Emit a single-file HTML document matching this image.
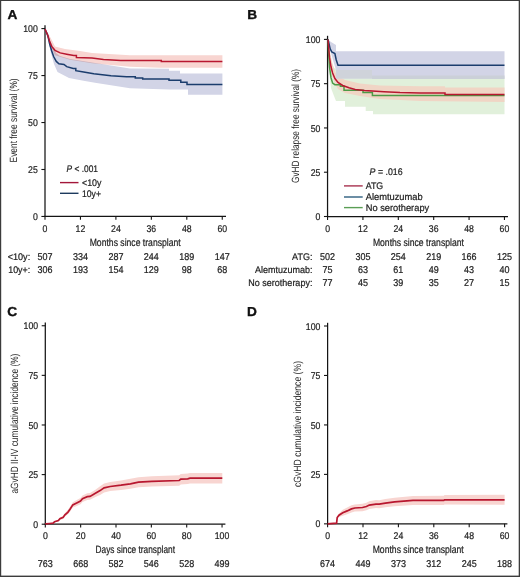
<!DOCTYPE html><html><head><meta charset="utf-8"><style>html,body{margin:0;padding:0;background:#fff;overflow:hidden}svg{display:block;font-family:"Liberation Sans",sans-serif;text-rendering:geometricPrecision}</style></head><body>
<svg width="520" height="577" viewBox="0 0 520 577">
<rect x="0" y="0" width="520" height="577" fill="#fff"/>
<text x="7.60" y="18.50" font-size="13" font-weight="bold" fill="#111" stroke="#111" stroke-width="0.35" textLength="9.86" lengthAdjust="spacingAndGlyphs">A</text>
<polygon points="45.00,29.00 50.00,40.60 56.00,53.00 60.00,56.00 70.00,59.00 92.00,62.50 130.00,68.50 169.00,68.80 169.00,70.70 180.00,70.70 180.00,73.40 222.40,73.40 222.40,94.70 188.00,94.70 188.00,89.50 169.00,89.50 130.00,88.30 95.00,82.70 83.50,80.80 69.00,77.90 57.50,72.00 54.00,64.00 51.00,53.00 48.00,40.00 45.00,29.00" fill="#d2d4e6" fill-opacity="1.0" style="mix-blend-mode:multiply"/>
<polygon points="45.00,29.00 48.00,33.00 52.00,40.50 55.00,46.50 65.00,49.00 80.00,51.00 92.00,53.00 130.00,55.20 222.40,55.20 222.40,67.80 160.00,67.80 130.00,66.80 92.00,63.20 70.00,59.80 55.00,55.20 52.00,49.00 48.00,38.00 45.00,29.00" fill="#f8d5d1" fill-opacity="1.0" style="mix-blend-mode:multiply"/>
<line x1="45.0" y1="25.2" x2="45.0" y2="217.04999999999998" stroke="#141414" stroke-width="1.25"/>
<line x1="44.4" y1="216.45" x2="226" y2="216.45" stroke="#141414" stroke-width="1.25"/>
<line x1="41.4" y1="28.60" x2="45.0" y2="28.60" stroke="#141414" stroke-width="1.1"/>
<text x="37.80" y="32.20" font-size="9.8" text-anchor="end" font-weight="normal" fill="#1e1e1e" textLength="14.55" lengthAdjust="spacingAndGlyphs" stroke="#1e1e1e" stroke-width="0.22">100</text>
<line x1="41.4" y1="75.56" x2="45.0" y2="75.56" stroke="#141414" stroke-width="1.1"/>
<text x="37.80" y="79.16" font-size="9.8" text-anchor="end" font-weight="normal" fill="#1e1e1e" textLength="9.70" lengthAdjust="spacingAndGlyphs" stroke="#1e1e1e" stroke-width="0.22">75</text>
<line x1="41.4" y1="122.53" x2="45.0" y2="122.53" stroke="#141414" stroke-width="1.1"/>
<text x="37.80" y="126.12" font-size="9.8" text-anchor="end" font-weight="normal" fill="#1e1e1e" textLength="9.70" lengthAdjust="spacingAndGlyphs" stroke="#1e1e1e" stroke-width="0.22">50</text>
<line x1="41.4" y1="169.49" x2="45.0" y2="169.49" stroke="#141414" stroke-width="1.1"/>
<text x="37.80" y="173.09" font-size="9.8" text-anchor="end" font-weight="normal" fill="#1e1e1e" textLength="9.70" lengthAdjust="spacingAndGlyphs" stroke="#1e1e1e" stroke-width="0.22">25</text>
<line x1="41.4" y1="216.45" x2="45.0" y2="216.45" stroke="#141414" stroke-width="1.1"/>
<text x="37.80" y="220.05" font-size="9.8" text-anchor="end" font-weight="normal" fill="#1e1e1e" textLength="4.85" lengthAdjust="spacingAndGlyphs" stroke="#1e1e1e" stroke-width="0.22">0</text>
<line x1="45.00" y1="216.45" x2="45.00" y2="219.85" stroke="#141414" stroke-width="1.1"/>
<text x="45.00" y="231.55" font-size="9.8" text-anchor="middle" font-weight="normal" fill="#1e1e1e" textLength="4.85" lengthAdjust="spacingAndGlyphs" stroke="#1e1e1e" stroke-width="0.22">0</text>
<line x1="80.45" y1="216.45" x2="80.45" y2="219.85" stroke="#141414" stroke-width="1.1"/>
<text x="80.45" y="231.55" font-size="9.8" text-anchor="middle" font-weight="normal" fill="#1e1e1e" textLength="9.70" lengthAdjust="spacingAndGlyphs" stroke="#1e1e1e" stroke-width="0.22">12</text>
<line x1="115.90" y1="216.45" x2="115.90" y2="219.85" stroke="#141414" stroke-width="1.1"/>
<text x="115.90" y="231.55" font-size="9.8" text-anchor="middle" font-weight="normal" fill="#1e1e1e" textLength="9.70" lengthAdjust="spacingAndGlyphs" stroke="#1e1e1e" stroke-width="0.22">24</text>
<line x1="151.35" y1="216.45" x2="151.35" y2="219.85" stroke="#141414" stroke-width="1.1"/>
<text x="151.35" y="231.55" font-size="9.8" text-anchor="middle" font-weight="normal" fill="#1e1e1e" textLength="9.70" lengthAdjust="spacingAndGlyphs" stroke="#1e1e1e" stroke-width="0.22">36</text>
<line x1="186.80" y1="216.45" x2="186.80" y2="219.85" stroke="#141414" stroke-width="1.1"/>
<text x="186.80" y="231.55" font-size="9.8" text-anchor="middle" font-weight="normal" fill="#1e1e1e" textLength="9.70" lengthAdjust="spacingAndGlyphs" stroke="#1e1e1e" stroke-width="0.22">48</text>
<line x1="222.25" y1="216.45" x2="222.25" y2="219.85" stroke="#141414" stroke-width="1.1"/>
<text x="222.25" y="231.55" font-size="9.8" text-anchor="middle" font-weight="normal" fill="#1e1e1e" textLength="9.70" lengthAdjust="spacingAndGlyphs" stroke="#1e1e1e" stroke-width="0.22">60</text>
<polyline points="45.00,29.00 47.80,35.40 49.80,44.50 51.70,51.00 53.70,56.80 56.30,61.40 58.90,63.70 64.00,64.40 66.70,66.60 73.20,68.50 75.80,68.50 75.80,70.70 83.60,72.00 93.80,73.80 111.00,75.80 126.50,76.70 135.30,76.70 135.30,78.00 142.70,78.00 142.70,79.10 169.00,79.10 169.00,80.20 180.80,80.20 180.80,82.30 187.00,82.30 187.00,84.40 222.40,84.40" fill="none" stroke="#1b3d6d" stroke-width="1.5" stroke-linejoin="miter" stroke-miterlimit="2"/>
<polyline points="45.00,29.00 47.80,35.40 49.80,41.90 51.70,46.40 55.00,50.30 60.20,52.90 66.70,54.20 73.80,55.50 76.40,55.50 76.40,57.50 92.00,58.10 103.50,59.40 120.80,60.40 161.30,60.50 161.30,61.40 222.40,61.40" fill="none" stroke="#b8172f" stroke-width="1.5" stroke-linejoin="miter" stroke-miterlimit="2"/>
<text x="0" y="0" font-size="10.5" text-anchor="middle" fill="#1e1e1e" textLength="84" lengthAdjust="spacingAndGlyphs" transform="translate(16.6,120.4) rotate(-90)">Event free survival (%)</text>
<text x="135.20" y="245.80" font-size="10.5" text-anchor="middle" font-weight="normal" fill="#1e1e1e" textLength="91.00" lengthAdjust="spacingAndGlyphs" stroke="#1e1e1e" stroke-width="0.22">Months since transplant</text>
<text x="66.60" y="172.00" font-size="9.6" text-anchor="start" font-weight="normal" fill="#1e1e1e" textLength="31.40" lengthAdjust="spacingAndGlyphs" stroke="#1e1e1e" stroke-width="0.22"><tspan font-style="italic">P</tspan> &lt; .001</text>
<line x1="60" y1="182.6" x2="78.5" y2="182.6" stroke="#a3173a" stroke-width="1.4"/>
<line x1="60" y1="193.3" x2="78.5" y2="193.3" stroke="#1d3a5e" stroke-width="1.4"/>
<text x="82.00" y="186.00" font-size="9.6" text-anchor="start" font-weight="normal" fill="#1e1e1e" textLength="19.50" lengthAdjust="spacingAndGlyphs" stroke="#1e1e1e" stroke-width="0.22">&lt;10y</text>
<text x="82.00" y="196.50" font-size="9.6" text-anchor="start" font-weight="normal" fill="#1e1e1e" textLength="19.00" lengthAdjust="spacingAndGlyphs" stroke="#1e1e1e" stroke-width="0.22">10y+</text>
<text x="30.20" y="259.60" font-size="9.6" text-anchor="end" font-weight="normal" fill="#1e1e1e" textLength="22.50" lengthAdjust="spacingAndGlyphs" stroke="#1e1e1e" stroke-width="0.22">&lt;10y:</text>
<text x="30.20" y="272.60" font-size="9.6" text-anchor="end" font-weight="normal" fill="#1e1e1e" textLength="22.00" lengthAdjust="spacingAndGlyphs" stroke="#1e1e1e" stroke-width="0.22">10y+:</text>
<text x="45.00" y="259.60" font-size="9.9" text-anchor="middle" font-weight="normal" fill="#1e1e1e" textLength="15.01" lengthAdjust="spacingAndGlyphs" stroke="#1e1e1e" stroke-width="0.22">507</text>
<text x="45.00" y="272.60" font-size="9.9" text-anchor="middle" font-weight="normal" fill="#1e1e1e" textLength="15.01" lengthAdjust="spacingAndGlyphs" stroke="#1e1e1e" stroke-width="0.22">306</text>
<text x="80.45" y="259.60" font-size="9.9" text-anchor="middle" font-weight="normal" fill="#1e1e1e" textLength="15.01" lengthAdjust="spacingAndGlyphs" stroke="#1e1e1e" stroke-width="0.22">334</text>
<text x="80.45" y="272.60" font-size="9.9" text-anchor="middle" font-weight="normal" fill="#1e1e1e" textLength="15.01" lengthAdjust="spacingAndGlyphs" stroke="#1e1e1e" stroke-width="0.22">193</text>
<text x="115.90" y="259.60" font-size="9.9" text-anchor="middle" font-weight="normal" fill="#1e1e1e" textLength="15.01" lengthAdjust="spacingAndGlyphs" stroke="#1e1e1e" stroke-width="0.22">287</text>
<text x="115.90" y="272.60" font-size="9.9" text-anchor="middle" font-weight="normal" fill="#1e1e1e" textLength="15.01" lengthAdjust="spacingAndGlyphs" stroke="#1e1e1e" stroke-width="0.22">154</text>
<text x="151.35" y="259.60" font-size="9.9" text-anchor="middle" font-weight="normal" fill="#1e1e1e" textLength="15.01" lengthAdjust="spacingAndGlyphs" stroke="#1e1e1e" stroke-width="0.22">244</text>
<text x="151.35" y="272.60" font-size="9.9" text-anchor="middle" font-weight="normal" fill="#1e1e1e" textLength="15.01" lengthAdjust="spacingAndGlyphs" stroke="#1e1e1e" stroke-width="0.22">129</text>
<text x="186.80" y="259.60" font-size="9.9" text-anchor="middle" font-weight="normal" fill="#1e1e1e" textLength="15.01" lengthAdjust="spacingAndGlyphs" stroke="#1e1e1e" stroke-width="0.22">189</text>
<text x="186.80" y="272.60" font-size="9.9" text-anchor="middle" font-weight="normal" fill="#1e1e1e" textLength="10.01" lengthAdjust="spacingAndGlyphs" stroke="#1e1e1e" stroke-width="0.22">98</text>
<text x="222.25" y="259.60" font-size="9.9" text-anchor="middle" font-weight="normal" fill="#1e1e1e" textLength="15.01" lengthAdjust="spacingAndGlyphs" stroke="#1e1e1e" stroke-width="0.22">147</text>
<text x="222.25" y="272.60" font-size="9.9" text-anchor="middle" font-weight="normal" fill="#1e1e1e" textLength="10.01" lengthAdjust="spacingAndGlyphs" stroke="#1e1e1e" stroke-width="0.22">68</text>
<text x="247.20" y="18.80" font-size="13" font-weight="bold" fill="#111" stroke="#111" stroke-width="0.35" textLength="9.86" lengthAdjust="spacingAndGlyphs">B</text>
<polygon points="328.00,39.50 329.00,50.00 331.00,62.00 334.00,68.00 338.00,69.50 372.00,69.50 372.00,77.50 504.50,77.50 504.50,114.30 373.00,114.30 373.00,111.00 365.70,111.00 365.70,106.70 345.00,106.70 345.00,101.00 336.00,101.00 334.00,96.00 331.00,88.00 329.00,70.00 328.00,39.50" fill="#e1f0db" fill-opacity="1.0"/>
<polygon points="328.00,39.50 330.00,52.00 332.00,62.00 335.00,72.00 338.00,76.00 345.00,80.00 360.00,83.50 380.00,85.50 420.00,86.30 445.00,86.30 445.00,87.50 504.50,87.50 504.50,102.00 420.00,101.00 380.00,99.00 360.00,96.00 345.00,93.00 338.00,89.00 335.00,84.00 332.00,75.00 330.00,62.00 328.00,39.50" fill="#f0d5c5" fill-opacity="1.0"/>
<polygon points="328.00,39.50 331.00,42.00 336.00,45.00 336.00,51.20 504.50,51.20 504.50,78.60 336.00,78.60 336.00,70.00 333.00,60.00 330.00,50.00 328.00,39.50" fill="#d2d4e6" fill-opacity="1.0"/>
<polygon points="336.00,70.00 372.00,70.00 372.00,78.60 336.00,78.60" fill="#cfd3da" fill-opacity="1.0"/>
<polygon points="372.00,75.50 504.50,75.50 504.50,79.00 372.00,79.00" fill="#cbd0d8" fill-opacity="1.0"/>
<line x1="327.55" y1="35.8" x2="327.55" y2="217.1" stroke="#141414" stroke-width="1.25"/>
<line x1="326.95" y1="216.5" x2="508" y2="216.5" stroke="#141414" stroke-width="1.25"/>
<line x1="323.95" y1="39.40" x2="327.55" y2="39.40" stroke="#141414" stroke-width="1.1"/>
<text x="320.35" y="43.00" font-size="9.8" text-anchor="end" font-weight="normal" fill="#1e1e1e" textLength="14.55" lengthAdjust="spacingAndGlyphs" stroke="#1e1e1e" stroke-width="0.22">100</text>
<line x1="323.95" y1="83.67" x2="327.55" y2="83.67" stroke="#141414" stroke-width="1.1"/>
<text x="320.35" y="87.27" font-size="9.8" text-anchor="end" font-weight="normal" fill="#1e1e1e" textLength="9.70" lengthAdjust="spacingAndGlyphs" stroke="#1e1e1e" stroke-width="0.22">75</text>
<line x1="323.95" y1="127.95" x2="327.55" y2="127.95" stroke="#141414" stroke-width="1.1"/>
<text x="320.35" y="131.55" font-size="9.8" text-anchor="end" font-weight="normal" fill="#1e1e1e" textLength="9.70" lengthAdjust="spacingAndGlyphs" stroke="#1e1e1e" stroke-width="0.22">50</text>
<line x1="323.95" y1="172.22" x2="327.55" y2="172.22" stroke="#141414" stroke-width="1.1"/>
<text x="320.35" y="175.82" font-size="9.8" text-anchor="end" font-weight="normal" fill="#1e1e1e" textLength="9.70" lengthAdjust="spacingAndGlyphs" stroke="#1e1e1e" stroke-width="0.22">25</text>
<line x1="323.95" y1="216.50" x2="327.55" y2="216.50" stroke="#141414" stroke-width="1.1"/>
<text x="320.35" y="220.10" font-size="9.8" text-anchor="end" font-weight="normal" fill="#1e1e1e" textLength="4.85" lengthAdjust="spacingAndGlyphs" stroke="#1e1e1e" stroke-width="0.22">0</text>
<line x1="327.55" y1="216.5" x2="327.55" y2="219.9" stroke="#141414" stroke-width="1.1"/>
<text x="327.55" y="231.60" font-size="9.8" text-anchor="middle" font-weight="normal" fill="#1e1e1e" textLength="4.85" lengthAdjust="spacingAndGlyphs" stroke="#1e1e1e" stroke-width="0.22">0</text>
<line x1="362.93" y1="216.5" x2="362.93" y2="219.9" stroke="#141414" stroke-width="1.1"/>
<text x="362.93" y="231.60" font-size="9.8" text-anchor="middle" font-weight="normal" fill="#1e1e1e" textLength="9.70" lengthAdjust="spacingAndGlyphs" stroke="#1e1e1e" stroke-width="0.22">12</text>
<line x1="398.31" y1="216.5" x2="398.31" y2="219.9" stroke="#141414" stroke-width="1.1"/>
<text x="398.31" y="231.60" font-size="9.8" text-anchor="middle" font-weight="normal" fill="#1e1e1e" textLength="9.70" lengthAdjust="spacingAndGlyphs" stroke="#1e1e1e" stroke-width="0.22">24</text>
<line x1="433.69" y1="216.5" x2="433.69" y2="219.9" stroke="#141414" stroke-width="1.1"/>
<text x="433.69" y="231.60" font-size="9.8" text-anchor="middle" font-weight="normal" fill="#1e1e1e" textLength="9.70" lengthAdjust="spacingAndGlyphs" stroke="#1e1e1e" stroke-width="0.22">36</text>
<line x1="469.07" y1="216.5" x2="469.07" y2="219.9" stroke="#141414" stroke-width="1.1"/>
<text x="469.07" y="231.60" font-size="9.8" text-anchor="middle" font-weight="normal" fill="#1e1e1e" textLength="9.70" lengthAdjust="spacingAndGlyphs" stroke="#1e1e1e" stroke-width="0.22">48</text>
<line x1="504.45" y1="216.5" x2="504.45" y2="219.9" stroke="#141414" stroke-width="1.1"/>
<text x="504.45" y="231.60" font-size="9.8" text-anchor="middle" font-weight="normal" fill="#1e1e1e" textLength="9.70" lengthAdjust="spacingAndGlyphs" stroke="#1e1e1e" stroke-width="0.22">60</text>
<polyline points="328.00,39.50 328.70,54.30 329.50,66.80 331.00,77.70 332.60,83.10 334.90,84.70 340.40,84.70 340.40,86.30 344.00,86.30 344.00,90.20 363.00,90.20 363.00,92.50 372.40,92.50 372.40,95.60 504.50,95.60" fill="none" stroke="#4c9a46" stroke-width="1.5" stroke-linejoin="miter" stroke-miterlimit="2"/>
<polyline points="328.00,39.50 330.20,48.80 331.80,52.00 334.90,53.50 336.20,59.70 338.00,65.20 504.50,65.20" fill="none" stroke="#1b3d6d" stroke-width="1.5" stroke-linejoin="miter" stroke-miterlimit="2"/>
<polyline points="328.00,39.50 329.50,57.40 331.00,66.80 332.60,73.00 334.90,78.50 338.00,82.40 342.70,85.50 349.00,87.80 355.20,89.40 364.60,90.50 384.00,91.70 400.00,92.50 420.00,93.00 445.00,93.00 445.00,94.50 504.50,94.50" fill="none" stroke="#b8172f" stroke-width="1.5" stroke-linejoin="miter" stroke-miterlimit="2"/>
<text x="0" y="0" font-size="10.5" text-anchor="middle" fill="#1e1e1e" textLength="114" lengthAdjust="spacingAndGlyphs" transform="translate(299.1,126) rotate(-90)">GvHD relapse free survival (%)</text>
<text x="418.40" y="245.80" font-size="10.5" text-anchor="middle" font-weight="normal" fill="#1e1e1e" textLength="91.00" lengthAdjust="spacingAndGlyphs" stroke="#1e1e1e" stroke-width="0.22">Months since transplant</text>
<text x="369.60" y="174.80" font-size="9.6" text-anchor="start" font-weight="normal" fill="#1e1e1e" textLength="33.00" lengthAdjust="spacingAndGlyphs" stroke="#1e1e1e" stroke-width="0.22"><tspan font-style="italic">P</tspan> = .016</text>
<line x1="344" y1="185.9" x2="362.7" y2="185.9" stroke="#a8324f" stroke-width="1.4"/>
<text x="365.70" y="189.30" font-size="9.6" text-anchor="start" font-weight="normal" fill="#1e1e1e" textLength="17.50" lengthAdjust="spacingAndGlyphs" stroke="#1e1e1e" stroke-width="0.22">ATG</text>
<line x1="344" y1="197.0" x2="362.7" y2="197.0" stroke="#2d5d7e" stroke-width="1.4"/>
<text x="365.70" y="200.40" font-size="9.6" text-anchor="start" font-weight="normal" fill="#1e1e1e" textLength="57.00" lengthAdjust="spacingAndGlyphs" stroke="#1e1e1e" stroke-width="0.22">Alemtuzumab</text>
<line x1="344" y1="207.6" x2="362.7" y2="207.6" stroke="#5a9e55" stroke-width="1.4"/>
<text x="365.70" y="211.00" font-size="9.6" text-anchor="start" font-weight="normal" fill="#1e1e1e" textLength="63.50" lengthAdjust="spacingAndGlyphs" stroke="#1e1e1e" stroke-width="0.22">No serotherapy</text>
<text x="312.40" y="259.80" font-size="9.6" text-anchor="end" font-weight="normal" fill="#1e1e1e" textLength="20.33" lengthAdjust="spacingAndGlyphs" stroke="#1e1e1e" stroke-width="0.22">ATG:</text>
<text x="327.55" y="259.80" font-size="9.9" text-anchor="middle" font-weight="normal" fill="#1e1e1e" textLength="15.01" lengthAdjust="spacingAndGlyphs" stroke="#1e1e1e" stroke-width="0.22">502</text>
<text x="362.93" y="259.80" font-size="9.9" text-anchor="middle" font-weight="normal" fill="#1e1e1e" textLength="15.01" lengthAdjust="spacingAndGlyphs" stroke="#1e1e1e" stroke-width="0.22">305</text>
<text x="398.31" y="259.80" font-size="9.9" text-anchor="middle" font-weight="normal" fill="#1e1e1e" textLength="15.01" lengthAdjust="spacingAndGlyphs" stroke="#1e1e1e" stroke-width="0.22">254</text>
<text x="433.69" y="259.80" font-size="9.9" text-anchor="middle" font-weight="normal" fill="#1e1e1e" textLength="15.01" lengthAdjust="spacingAndGlyphs" stroke="#1e1e1e" stroke-width="0.22">219</text>
<text x="469.07" y="259.80" font-size="9.9" text-anchor="middle" font-weight="normal" fill="#1e1e1e" textLength="15.01" lengthAdjust="spacingAndGlyphs" stroke="#1e1e1e" stroke-width="0.22">166</text>
<text x="504.45" y="259.80" font-size="9.9" text-anchor="middle" font-weight="normal" fill="#1e1e1e" textLength="15.01" lengthAdjust="spacingAndGlyphs" stroke="#1e1e1e" stroke-width="0.22">125</text>
<text x="312.40" y="273.20" font-size="9.6" text-anchor="end" font-weight="normal" fill="#1e1e1e" textLength="57.52" lengthAdjust="spacingAndGlyphs" stroke="#1e1e1e" stroke-width="0.22">Alemtuzumab:</text>
<text x="327.55" y="273.20" font-size="9.9" text-anchor="middle" font-weight="normal" fill="#1e1e1e" textLength="10.01" lengthAdjust="spacingAndGlyphs" stroke="#1e1e1e" stroke-width="0.22">75</text>
<text x="362.93" y="273.20" font-size="9.9" text-anchor="middle" font-weight="normal" fill="#1e1e1e" textLength="10.01" lengthAdjust="spacingAndGlyphs" stroke="#1e1e1e" stroke-width="0.22">63</text>
<text x="398.31" y="273.20" font-size="9.9" text-anchor="middle" font-weight="normal" fill="#1e1e1e" textLength="10.01" lengthAdjust="spacingAndGlyphs" stroke="#1e1e1e" stroke-width="0.22">61</text>
<text x="433.69" y="273.20" font-size="9.9" text-anchor="middle" font-weight="normal" fill="#1e1e1e" textLength="10.01" lengthAdjust="spacingAndGlyphs" stroke="#1e1e1e" stroke-width="0.22">49</text>
<text x="469.07" y="273.20" font-size="9.9" text-anchor="middle" font-weight="normal" fill="#1e1e1e" textLength="10.01" lengthAdjust="spacingAndGlyphs" stroke="#1e1e1e" stroke-width="0.22">43</text>
<text x="504.45" y="273.20" font-size="9.9" text-anchor="middle" font-weight="normal" fill="#1e1e1e" textLength="10.01" lengthAdjust="spacingAndGlyphs" stroke="#1e1e1e" stroke-width="0.22">40</text>
<text x="312.40" y="286.30" font-size="9.6" text-anchor="end" font-weight="normal" fill="#1e1e1e" textLength="64.03" lengthAdjust="spacingAndGlyphs" stroke="#1e1e1e" stroke-width="0.22">No serotherapy:</text>
<text x="327.55" y="286.30" font-size="9.9" text-anchor="middle" font-weight="normal" fill="#1e1e1e" textLength="10.01" lengthAdjust="spacingAndGlyphs" stroke="#1e1e1e" stroke-width="0.22">77</text>
<text x="362.93" y="286.30" font-size="9.9" text-anchor="middle" font-weight="normal" fill="#1e1e1e" textLength="10.01" lengthAdjust="spacingAndGlyphs" stroke="#1e1e1e" stroke-width="0.22">45</text>
<text x="398.31" y="286.30" font-size="9.9" text-anchor="middle" font-weight="normal" fill="#1e1e1e" textLength="10.01" lengthAdjust="spacingAndGlyphs" stroke="#1e1e1e" stroke-width="0.22">39</text>
<text x="433.69" y="286.30" font-size="9.9" text-anchor="middle" font-weight="normal" fill="#1e1e1e" textLength="10.01" lengthAdjust="spacingAndGlyphs" stroke="#1e1e1e" stroke-width="0.22">35</text>
<text x="469.07" y="286.30" font-size="9.9" text-anchor="middle" font-weight="normal" fill="#1e1e1e" textLength="10.01" lengthAdjust="spacingAndGlyphs" stroke="#1e1e1e" stroke-width="0.22">27</text>
<text x="504.45" y="286.30" font-size="9.9" text-anchor="middle" font-weight="normal" fill="#1e1e1e" textLength="10.01" lengthAdjust="spacingAndGlyphs" stroke="#1e1e1e" stroke-width="0.22">15</text>
<text x="7.20" y="316.30" font-size="13" font-weight="bold" fill="#111" stroke="#111" stroke-width="0.35" textLength="9.86" lengthAdjust="spacingAndGlyphs">C</text>
<polygon points="53.10,522.89 54.60,521.19 58.40,519.61 59.90,517.61 63.20,515.78 64.70,513.19 68.00,509.86 70.00,506.70 72.80,502.20 76.70,500.03 80.50,497.89 82.50,495.43 87.30,493.31 90.00,492.93 95.40,489.64 100.10,486.20 104.10,483.42 110.20,481.90 121.00,480.38 130.40,478.80 138.50,477.16 151.90,476.29 179.20,475.25 180.80,473.95 187.70,473.51 190.00,472.90 222.30,472.90 222.30,483.50 190.00,483.50 187.70,484.09 180.80,484.45 179.20,485.75 151.90,486.51 138.50,487.24 130.40,488.80 121.00,490.02 110.20,491.10 104.10,492.38 100.10,495.00 95.40,496.96 90.00,499.87 87.30,500.09 82.50,501.97 80.50,504.31 76.70,505.97 72.80,507.60 70.00,511.70 68.00,514.34 64.70,516.81 63.20,519.02 59.90,519.99 58.40,521.59 54.60,522.21 53.10,523.51" fill="#f8d5d1" fill-opacity="1.0" style="mix-blend-mode:multiply"/>
<line x1="45.3" y1="322.5" x2="45.3" y2="524.8000000000001" stroke="#141414" stroke-width="1.25"/>
<line x1="44.699999999999996" y1="524.2" x2="225.4" y2="524.2" stroke="#141414" stroke-width="1.25"/>
<line x1="41.699999999999996" y1="325.75" x2="45.3" y2="325.75" stroke="#141414" stroke-width="1.1"/>
<text x="38.10" y="329.35" font-size="9.8" text-anchor="end" font-weight="normal" fill="#1e1e1e" textLength="14.55" lengthAdjust="spacingAndGlyphs" stroke="#1e1e1e" stroke-width="0.22">100</text>
<line x1="41.699999999999996" y1="375.36" x2="45.3" y2="375.36" stroke="#141414" stroke-width="1.1"/>
<text x="38.10" y="378.96" font-size="9.8" text-anchor="end" font-weight="normal" fill="#1e1e1e" textLength="9.70" lengthAdjust="spacingAndGlyphs" stroke="#1e1e1e" stroke-width="0.22">75</text>
<line x1="41.699999999999996" y1="424.98" x2="45.3" y2="424.98" stroke="#141414" stroke-width="1.1"/>
<text x="38.10" y="428.58" font-size="9.8" text-anchor="end" font-weight="normal" fill="#1e1e1e" textLength="9.70" lengthAdjust="spacingAndGlyphs" stroke="#1e1e1e" stroke-width="0.22">50</text>
<line x1="41.699999999999996" y1="474.59" x2="45.3" y2="474.59" stroke="#141414" stroke-width="1.1"/>
<text x="38.10" y="478.19" font-size="9.8" text-anchor="end" font-weight="normal" fill="#1e1e1e" textLength="9.70" lengthAdjust="spacingAndGlyphs" stroke="#1e1e1e" stroke-width="0.22">25</text>
<line x1="41.699999999999996" y1="524.20" x2="45.3" y2="524.20" stroke="#141414" stroke-width="1.1"/>
<text x="38.10" y="527.80" font-size="9.8" text-anchor="end" font-weight="normal" fill="#1e1e1e" textLength="4.85" lengthAdjust="spacingAndGlyphs" stroke="#1e1e1e" stroke-width="0.22">0</text>
<line x1="45.30" y1="524.2" x2="45.30" y2="527.6" stroke="#141414" stroke-width="1.1"/>
<text x="45.30" y="539.30" font-size="9.8" text-anchor="middle" font-weight="normal" fill="#1e1e1e" textLength="4.85" lengthAdjust="spacingAndGlyphs" stroke="#1e1e1e" stroke-width="0.22">0</text>
<line x1="80.65" y1="524.2" x2="80.65" y2="527.6" stroke="#141414" stroke-width="1.1"/>
<text x="80.65" y="539.30" font-size="9.8" text-anchor="middle" font-weight="normal" fill="#1e1e1e" textLength="9.70" lengthAdjust="spacingAndGlyphs" stroke="#1e1e1e" stroke-width="0.22">20</text>
<line x1="116.00" y1="524.2" x2="116.00" y2="527.6" stroke="#141414" stroke-width="1.1"/>
<text x="116.00" y="539.30" font-size="9.8" text-anchor="middle" font-weight="normal" fill="#1e1e1e" textLength="9.70" lengthAdjust="spacingAndGlyphs" stroke="#1e1e1e" stroke-width="0.22">40</text>
<line x1="151.35" y1="524.2" x2="151.35" y2="527.6" stroke="#141414" stroke-width="1.1"/>
<text x="151.35" y="539.30" font-size="9.8" text-anchor="middle" font-weight="normal" fill="#1e1e1e" textLength="9.70" lengthAdjust="spacingAndGlyphs" stroke="#1e1e1e" stroke-width="0.22">60</text>
<line x1="186.70" y1="524.2" x2="186.70" y2="527.6" stroke="#141414" stroke-width="1.1"/>
<text x="186.70" y="539.30" font-size="9.8" text-anchor="middle" font-weight="normal" fill="#1e1e1e" textLength="9.70" lengthAdjust="spacingAndGlyphs" stroke="#1e1e1e" stroke-width="0.22">80</text>
<line x1="222.05" y1="524.2" x2="222.05" y2="527.6" stroke="#141414" stroke-width="1.1"/>
<text x="222.05" y="539.30" font-size="9.8" text-anchor="middle" font-weight="normal" fill="#1e1e1e" textLength="14.55" lengthAdjust="spacingAndGlyphs" stroke="#1e1e1e" stroke-width="0.22">100</text>
<polyline points="45.30,524.00 45.90,523.80 49.80,523.50 53.10,523.20 54.60,521.70 58.40,520.60 59.90,518.80 63.20,517.40 64.70,515.00 68.00,512.10 70.00,509.20 72.80,504.90 76.70,503.00 80.50,501.10 82.50,498.70 87.30,496.70 90.00,496.40 95.40,493.30 100.10,490.60 104.10,487.90 110.20,486.50 121.00,485.20 130.40,483.80 138.50,482.20 151.90,481.40 179.20,480.50 180.80,479.20 187.70,478.80 190.00,478.20 222.30,478.20" fill="none" stroke="#b8172f" stroke-width="1.7" stroke-linejoin="miter" stroke-miterlimit="2"/>
<text x="0" y="0" font-size="10.5" text-anchor="middle" fill="#1e1e1e" textLength="140" lengthAdjust="spacingAndGlyphs" transform="translate(18.1,423.6) rotate(-90)">aGvHD II-IV cumulative incidence (%)</text>
<text x="135.30" y="552.80" font-size="10.5" text-anchor="middle" font-weight="normal" fill="#1e1e1e" textLength="79.40" lengthAdjust="spacingAndGlyphs" stroke="#1e1e1e" stroke-width="0.22">Days since transplant</text>
<text x="45.30" y="567.20" font-size="9.9" text-anchor="middle" font-weight="normal" fill="#1e1e1e" textLength="15.01" lengthAdjust="spacingAndGlyphs" stroke="#1e1e1e" stroke-width="0.22">763</text>
<text x="80.65" y="567.20" font-size="9.9" text-anchor="middle" font-weight="normal" fill="#1e1e1e" textLength="15.01" lengthAdjust="spacingAndGlyphs" stroke="#1e1e1e" stroke-width="0.22">668</text>
<text x="116.00" y="567.20" font-size="9.9" text-anchor="middle" font-weight="normal" fill="#1e1e1e" textLength="15.01" lengthAdjust="spacingAndGlyphs" stroke="#1e1e1e" stroke-width="0.22">582</text>
<text x="151.35" y="567.20" font-size="9.9" text-anchor="middle" font-weight="normal" fill="#1e1e1e" textLength="15.01" lengthAdjust="spacingAndGlyphs" stroke="#1e1e1e" stroke-width="0.22">546</text>
<text x="186.70" y="567.20" font-size="9.9" text-anchor="middle" font-weight="normal" fill="#1e1e1e" textLength="15.01" lengthAdjust="spacingAndGlyphs" stroke="#1e1e1e" stroke-width="0.22">528</text>
<text x="222.05" y="567.20" font-size="9.9" text-anchor="middle" font-weight="normal" fill="#1e1e1e" textLength="15.01" lengthAdjust="spacingAndGlyphs" stroke="#1e1e1e" stroke-width="0.22">499</text>
<text x="247.00" y="316.40" font-size="13" font-weight="bold" fill="#111" stroke="#111" stroke-width="0.35" textLength="9.86" lengthAdjust="spacingAndGlyphs">D</text>
<polygon points="337.20,516.71 339.00,513.52 342.80,509.75 347.20,507.57 351.50,505.37 354.80,504.41 362.50,503.76 366.40,502.68 369.30,501.23 376.00,500.10 379.20,500.16 385.40,499.07 394.60,497.65 413.00,495.90 443.80,495.69 444.50,495.08 504.60,494.80 504.60,504.80 444.50,504.52 443.80,505.11 413.00,504.90 394.60,506.15 385.40,507.33 379.20,508.24 376.00,508.10 369.30,508.97 366.40,510.32 362.50,511.24 354.80,511.59 351.50,512.43 347.20,514.23 342.80,515.85 339.00,516.88 337.20,518.49" fill="#f8d5d1" fill-opacity="1.0" style="mix-blend-mode:multiply"/>
<line x1="327.6" y1="322.8" x2="327.6" y2="524.45" stroke="#141414" stroke-width="1.25"/>
<line x1="327.0" y1="523.85" x2="507.4" y2="523.85" stroke="#141414" stroke-width="1.25"/>
<line x1="324.0" y1="326.00" x2="327.6" y2="326.00" stroke="#141414" stroke-width="1.1"/>
<text x="320.40" y="329.60" font-size="9.8" text-anchor="end" font-weight="normal" fill="#1e1e1e" textLength="14.55" lengthAdjust="spacingAndGlyphs" stroke="#1e1e1e" stroke-width="0.22">100</text>
<line x1="324.0" y1="375.46" x2="327.6" y2="375.46" stroke="#141414" stroke-width="1.1"/>
<text x="320.40" y="379.06" font-size="9.8" text-anchor="end" font-weight="normal" fill="#1e1e1e" textLength="9.70" lengthAdjust="spacingAndGlyphs" stroke="#1e1e1e" stroke-width="0.22">75</text>
<line x1="324.0" y1="424.93" x2="327.6" y2="424.93" stroke="#141414" stroke-width="1.1"/>
<text x="320.40" y="428.53" font-size="9.8" text-anchor="end" font-weight="normal" fill="#1e1e1e" textLength="9.70" lengthAdjust="spacingAndGlyphs" stroke="#1e1e1e" stroke-width="0.22">50</text>
<line x1="324.0" y1="474.39" x2="327.6" y2="474.39" stroke="#141414" stroke-width="1.1"/>
<text x="320.40" y="477.99" font-size="9.8" text-anchor="end" font-weight="normal" fill="#1e1e1e" textLength="9.70" lengthAdjust="spacingAndGlyphs" stroke="#1e1e1e" stroke-width="0.22">25</text>
<line x1="324.0" y1="523.85" x2="327.6" y2="523.85" stroke="#141414" stroke-width="1.1"/>
<text x="320.40" y="527.45" font-size="9.8" text-anchor="end" font-weight="normal" fill="#1e1e1e" textLength="4.85" lengthAdjust="spacingAndGlyphs" stroke="#1e1e1e" stroke-width="0.22">0</text>
<line x1="327.60" y1="523.85" x2="327.60" y2="527.25" stroke="#141414" stroke-width="1.1"/>
<text x="327.60" y="538.95" font-size="9.8" text-anchor="middle" font-weight="normal" fill="#1e1e1e" textLength="4.85" lengthAdjust="spacingAndGlyphs" stroke="#1e1e1e" stroke-width="0.22">0</text>
<line x1="363.00" y1="523.85" x2="363.00" y2="527.25" stroke="#141414" stroke-width="1.1"/>
<text x="363.00" y="538.95" font-size="9.8" text-anchor="middle" font-weight="normal" fill="#1e1e1e" textLength="9.70" lengthAdjust="spacingAndGlyphs" stroke="#1e1e1e" stroke-width="0.22">12</text>
<line x1="398.40" y1="523.85" x2="398.40" y2="527.25" stroke="#141414" stroke-width="1.1"/>
<text x="398.40" y="538.95" font-size="9.8" text-anchor="middle" font-weight="normal" fill="#1e1e1e" textLength="9.70" lengthAdjust="spacingAndGlyphs" stroke="#1e1e1e" stroke-width="0.22">24</text>
<line x1="433.80" y1="523.85" x2="433.80" y2="527.25" stroke="#141414" stroke-width="1.1"/>
<text x="433.80" y="538.95" font-size="9.8" text-anchor="middle" font-weight="normal" fill="#1e1e1e" textLength="9.70" lengthAdjust="spacingAndGlyphs" stroke="#1e1e1e" stroke-width="0.22">36</text>
<line x1="469.20" y1="523.85" x2="469.20" y2="527.25" stroke="#141414" stroke-width="1.1"/>
<text x="469.20" y="538.95" font-size="9.8" text-anchor="middle" font-weight="normal" fill="#1e1e1e" textLength="9.70" lengthAdjust="spacingAndGlyphs" stroke="#1e1e1e" stroke-width="0.22">48</text>
<line x1="504.60" y1="523.85" x2="504.60" y2="527.25" stroke="#141414" stroke-width="1.1"/>
<text x="504.60" y="538.95" font-size="9.8" text-anchor="middle" font-weight="normal" fill="#1e1e1e" textLength="9.70" lengthAdjust="spacingAndGlyphs" stroke="#1e1e1e" stroke-width="0.22">60</text>
<polyline points="327.60,523.80 336.60,523.20 337.20,517.60 339.00,515.20 342.80,512.80 347.20,510.90 351.50,508.90 354.80,508.00 362.50,507.50 366.40,506.50 369.30,505.10 376.00,504.10 379.20,504.20 385.40,503.20 394.60,501.90 413.00,500.40 443.80,500.40 444.50,499.80 504.60,499.80" fill="none" stroke="#b8172f" stroke-width="1.7" stroke-linejoin="miter" stroke-miterlimit="2"/>
<text x="0" y="0" font-size="10.5" text-anchor="middle" fill="#1e1e1e" textLength="126" lengthAdjust="spacingAndGlyphs" transform="translate(300.6,424) rotate(-90)">cGvHD cumulative incidence (%)</text>
<text x="418.20" y="552.80" font-size="10.5" text-anchor="middle" font-weight="normal" fill="#1e1e1e" textLength="91.00" lengthAdjust="spacingAndGlyphs" stroke="#1e1e1e" stroke-width="0.22">Months since transplant</text>
<text x="327.60" y="567.20" font-size="9.9" text-anchor="middle" font-weight="normal" fill="#1e1e1e" textLength="15.01" lengthAdjust="spacingAndGlyphs" stroke="#1e1e1e" stroke-width="0.22">674</text>
<text x="363.00" y="567.20" font-size="9.9" text-anchor="middle" font-weight="normal" fill="#1e1e1e" textLength="15.01" lengthAdjust="spacingAndGlyphs" stroke="#1e1e1e" stroke-width="0.22">449</text>
<text x="398.40" y="567.20" font-size="9.9" text-anchor="middle" font-weight="normal" fill="#1e1e1e" textLength="15.01" lengthAdjust="spacingAndGlyphs" stroke="#1e1e1e" stroke-width="0.22">373</text>
<text x="433.80" y="567.20" font-size="9.9" text-anchor="middle" font-weight="normal" fill="#1e1e1e" textLength="15.01" lengthAdjust="spacingAndGlyphs" stroke="#1e1e1e" stroke-width="0.22">312</text>
<text x="469.20" y="567.20" font-size="9.9" text-anchor="middle" font-weight="normal" fill="#1e1e1e" textLength="15.01" lengthAdjust="spacingAndGlyphs" stroke="#1e1e1e" stroke-width="0.22">245</text>
<text x="504.60" y="567.20" font-size="9.9" text-anchor="middle" font-weight="normal" fill="#1e1e1e" textLength="15.01" lengthAdjust="spacingAndGlyphs" stroke="#1e1e1e" stroke-width="0.22">188</text>
<rect x="0" y="0" width="520" height="1" fill="#3c3c3c"/>
<rect x="0" y="0" width="1.2" height="577" fill="#3c3c3c"/>
<rect x="518.7" y="0" width="1.3" height="577" fill="#3c3c3c"/>
<rect x="0" y="575.6" width="520" height="1.4" fill="#3c3c3c"/>
</svg></body></html>
